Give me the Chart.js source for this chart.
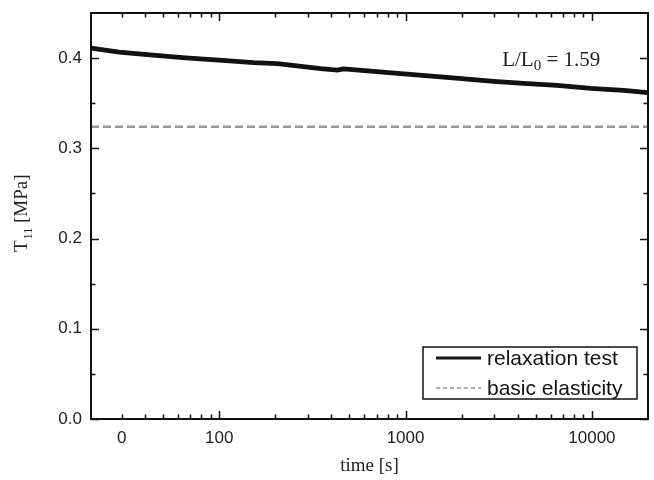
<!DOCTYPE html>
<html>
<head>
<meta charset="utf-8">
<title>Relaxation test</title>
<script src="https://cdn.jsdelivr.net/npm/chart.js@4.4.1/dist/chart.umd.min.js"></script>
<style>
  html, body { margin: 0; padding: 0; background: #fff; }
  #wrap { width: 654px; height: 480px; }
</style>
</head>
<body>
<div id="wrap"><canvas id="chart" width="654" height="480"></canvas></div>
<script>
// values (time in s, T11 in MPa)
const times = [20.5, 29, 44, 66, 104, 153, 205, 283, 350, 430, 465, 560, 810, 1230, 1860, 2970, 4300, 6500, 9850, 14800, 20000];
const stress = [0.4112, 0.4066, 0.4033, 0.4003, 0.3975, 0.3950, 0.3940, 0.3906, 0.3884, 0.3868, 0.3880, 0.3866, 0.3838, 0.3809, 0.3779, 0.3743, 0.3720, 0.3698, 0.3665, 0.3643, 0.3617];
const elasticTimes = [20.5, 20000];
const elasticStress = [0.324, 0.324];

const seriesNames = ['relaxation test', 'basic elasticity'];

const xTickValues = [30, 40, 50, 60, 70, 80, 90,
                     100, 200, 300, 400, 500, 600, 700, 800, 900,
                     1000, 2000, 3000, 4000, 5000, 6000, 7000, 8000, 9000,
                     10000];
const xTickLabels = {30: '0', 100: '100', 1000: '1000', 10000: '10000'};
const xMajor = [100, 1000, 10000];
const yTickValues = [0, 0.05, 0.1, 0.15, 0.2, 0.25, 0.3, 0.35, 0.4];

const stretchText = ['L/L', '0', ' = 1.59'];
const stretchAt = {t: 3300, v: 0.391};

const sans = 'Liberation Sans, Arial, sans-serif';
const serif = 'Liberation Serif, Times New Roman, serif';

Chart.defaults.font.family = sans;
Chart.defaults.color = '#222';

const isMajorY = v => Math.abs(v * 10 - Math.round(v * 10)) < 1e-6;

// inward ticks on all four sides + box frame
const frameAndTicks = {
    id: 'frameAndTicks',
    afterDatasetsDraw(chart) {
        const {ctx, chartArea: a, scales: {x, y}} = chart;
        ctx.save();
        ctx.strokeStyle = '#111';
        ctx.lineWidth = 1.5;
        ctx.beginPath();
        x.ticks.forEach(t => {
            const px = Math.round(x.getPixelForValue(t.value)) + 0.5;
            const len = xMajor.includes(t.value) ? 8 : 4.5;
            ctx.moveTo(px, a.bottom); ctx.lineTo(px, a.bottom - len);
            ctx.moveTo(px, a.top); ctx.lineTo(px, a.top + len);
        });
        y.ticks.forEach(t => {
            const py = Math.round(y.getPixelForValue(t.value)) + 0.5;
            const len = isMajorY(t.value) ? 8 : 4.5;
            ctx.moveTo(a.left, py); ctx.lineTo(a.left + len, py);
            ctx.moveTo(a.right, py); ctx.lineTo(a.right - len, py);
        });
        ctx.stroke();
        ctx.lineWidth = 2;
        ctx.strokeRect(a.left, a.top, a.width, a.height);
        ctx.restore();
    }
};

// y title with subscript, legend box, L/L0 note
const extras = {
    id: 'extras',
    afterDraw(chart) {
        const {ctx, chartArea: a, scales: {x, y}} = chart;
        ctx.save();
        ctx.fillStyle = '#222';

        // y axis title
        ctx.save();
        ctx.translate(27, 252);
        ctx.rotate(-Math.PI / 2);
        ctx.textBaseline = 'alphabetic';
        ctx.font = '19px ' + serif;
        ctx.fillText('T', 0, 0);
        let w = ctx.measureText('T').width;
        ctx.font = '12px ' + serif;
        ctx.fillText('11', w + 1, 5);
        w += ctx.measureText('11').width + 1;
        ctx.font = '19px ' + serif;
        ctx.fillText(' [MPa]', w, 0);
        ctx.restore();

        // L/L0 = 1.59
        let tx = x.getPixelForValue(stretchAt.t);
        const ty = y.getPixelForValue(stretchAt.v);
        ctx.textBaseline = 'alphabetic';
        ctx.font = '21px ' + serif;
        ctx.fillText(stretchText[0], tx, ty);
        tx += ctx.measureText(stretchText[0]).width;
        ctx.font = '15px ' + serif;
        ctx.fillText(stretchText[1], tx, ty + 4);
        tx += ctx.measureText(stretchText[1]).width;
        ctx.font = '21px ' + serif;
        ctx.fillText(stretchText[2], tx, ty);

        // legend
        const bw = 214, bh = 52;
        const bx = a.right - 11 - bw, by = a.bottom - 20 - bh;
        ctx.fillStyle = '#fff';
        ctx.fillRect(bx, by, bw, bh);
        ctx.strokeStyle = '#111';
        ctx.lineWidth = 1.5;
        ctx.strokeRect(bx, by, bw, bh);
        const rows = [by + 11, by + 41];
        chart.data.datasets.forEach((ds, i) => {
            ctx.save();
            ctx.strokeStyle = ds.borderColor;
            ctx.lineWidth = i === 0 ? 3 : 1.5;
            ctx.setLineDash(i === 0 ? [] : [4, 3]);
            ctx.beginPath();
            ctx.moveTo(bx + 13, rows[i]);
            ctx.lineTo(bx + 58, rows[i]);
            ctx.stroke();
            ctx.restore();
            ctx.fillStyle = '#111';
            ctx.font = '21px ' + sans;
            ctx.textBaseline = 'middle';
            ctx.fillText(ds.label, bx + 64, rows[i] + 1);
        });
        ctx.restore();
    }
};

new Chart(document.getElementById('chart'), {
    type: 'line',
    data: {
        datasets: [{
            label: seriesNames[0],
            data: times.map((t, i) => ({x: t, y: stress[i]})),
            borderColor: '#111',
            borderWidth: 4.8,
            pointRadius: 0,
            tension: 0
        }, {
            label: seriesNames[1],
            data: elasticTimes.map((t, i) => ({x: t, y: elasticStress[i]})),
            borderColor: '#999',
            borderWidth: 2.5,
            borderDash: [8, 4],
            pointRadius: 0
        }]
    },
    options: {
        responsive: false,
        animation: false,
        layout: {padding: {top: 13, right: 6, left: 0, bottom: 0}},
        plugins: {legend: {display: false}, tooltip: {enabled: false}},
        scales: {
            x: {
                type: 'logarithmic',
                min: 20.5,
                max: 20000,
                grid: {display: false, drawTicks: false},
                border: {display: false},
                afterBuildTicks: scale => {
                    scale.ticks = xTickValues.map(v => ({value: v}));
                },
                afterFit: scale => {
                    scale.height = 61;
                    scale.paddingLeft = 0;
                    scale.paddingRight = 0;
                },
                ticks: {
                    autoSkip: false,
                    maxRotation: 0,
                    padding: 9,
                    font: {size: 17},
                    color: '#222',
                    callback: v => xTickLabels[v] || ''
                },
                title: {
                    display: true,
                    text: 'time [s]',
                    font: {family: serif, size: 19},
                    color: '#222',
                    padding: {top: 0, bottom: 3}
                }
            },
            y: {
                type: 'linear',
                min: 0,
                max: 0.45,
                grid: {display: false, drawTicks: false},
                border: {display: false},
                afterBuildTicks: scale => {
                    scale.ticks = yTickValues.map(v => ({value: v}));
                },
                afterFit: scale => {
                    scale.width = 91;
                    scale.paddingTop = 0;
                    scale.paddingBottom = 0;
                },
                ticks: {
                    padding: 9,
                    font: {size: 17},
                    color: '#222',
                    callback: v => isMajorY(v) ? v.toFixed(1) : ''
                }
            }
        }
    },
    plugins: [frameAndTicks, extras]
});
</script>
</body>
</html>
